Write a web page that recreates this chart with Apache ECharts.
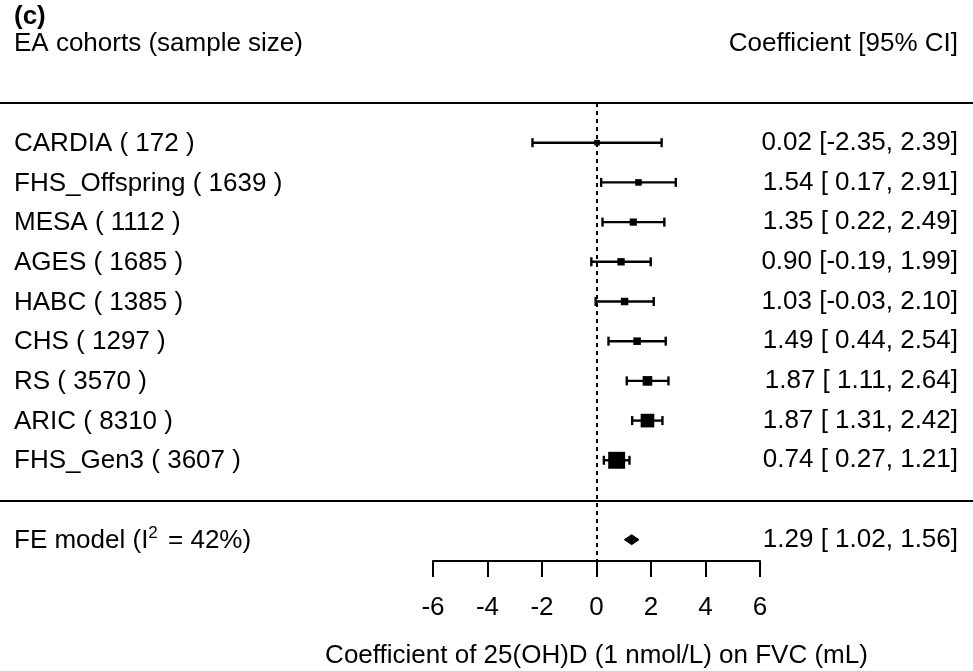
<!DOCTYPE html>
<html>
<head>
<meta charset="utf-8">
<script src="https://cdn.jsdelivr.net/npm/echarts@6/dist/echarts.min.js"></script>
<style>
  html, body { margin: 0; padding: 0; background: #fff; }
  #chart { width: 973px; height: 671px; }
</style>
</head>
<body>
<div id="chart"></div>
<script>
// ---- data ----
const panelTag = '(c)';
const leftHeader = 'EA cohorts (sample size)';
const rightHeader = 'Coefficient [95% CI]';
const cohorts = ['CARDIA', 'FHS_Offspring', 'MESA', 'AGES', 'HABC', 'CHS', 'RS', 'ARIC', 'FHS_Gen3'];
const sampleSizes = [172, 1639, 1112, 1685, 1385, 1297, 3570, 8310, 3607];
const estimates = [0.02, 1.54, 1.35, 0.90, 1.03, 1.49, 1.87, 1.87, 0.74];
const lowers = [-2.35, 0.17, 0.22, -0.19, -0.03, 0.44, 1.11, 1.31, 0.27];
const uppers = [2.39, 2.91, 2.49, 1.99, 2.10, 2.54, 2.64, 2.42, 1.21];
const summaryName = 'FE model';
const summaryI2 = 42;
const summaryEst = [1.29];
const summaryLo = [1.02];
const summaryHi = [1.56];
const xTicks = [-6, -4, -2, 0, 2, 4, 6];
const xTitle = 'Coefficient of 25(OH)D (1 nmol/L) on FVC (mL)';

// ---- layout helpers ----
const FONT = 'Liberation Sans, Arial, sans-serif';
const FS = 26;
const nRows = cohorts.length;
const summaryRow = nRows + 2;
const rowMax = 11.537;

function fmt(v, padPos) {
  const s = v.toFixed(2);
  return (padPos && v >= 0) ? ' ' + s : s;
}
const leftLabels = {};
const rightLabels = {};
cohorts.forEach((c, i) => {
  leftLabels[i + 1] = c + ' ( ' + sampleSizes[i] + ' )';
  rightLabels[i + 1] = fmt(estimates[i]) + ' [' + fmt(lowers[i], true) + ', ' + fmt(uppers[i]) + ']';
});
leftLabels[summaryRow] = summaryName + ' (I{sup|2} = ' + summaryI2 + '%)';
rightLabels[summaryRow] = fmt(summaryEst[0]) + ' [' + fmt(summaryLo[0], true) + ', ' + fmt(summaryHi[0]) + ']';

// marker size from inverse-variance weights (derived from CI width)
const wts = lowers.map((lo, i) => { const se = (uppers[i] - lo) / 3.92; return 1 / (se * se); });
const wMin = Math.min(...wts), wMax = Math.max(...wts);
const psize = wts.map(w => ((w - wMin) / (wMax - wMin)) + 0.5);
const studyData = cohorts.map((c, i) => [estimates[i], lowers[i], uppers[i], i + 1, psize[i]]);
const summaryData = [[summaryEst[0], summaryLo[0], summaryHi[0], summaryRow]];

const chart = echarts.init(document.getElementById('chart'));
const option = {
  animation: false,
  backgroundColor: '#fff',
  textStyle: { fontFamily: FONT, color: '#000' },
  grid: { left: 433, right: 213, top: 103, bottom: 110, containLabel: false, outerBoundsMode: 'none' },
  xAxis: {
    type: 'value', min: xTicks[0], max: xTicks[xTicks.length - 1], interval: 2,
    axisLine: { onZero: false, lineStyle: { color: '#000', width: 2 } },
    axisTick: { show: true, inside: false, length: 16, lineStyle: { color: '#000', width: 2 } },
    axisLabel: { color: '#000', fontSize: FS, fontFamily: FONT, margin: 34 },
    splitLine: { show: false },
    name: xTitle, nameLocation: 'middle', nameGap: 82,
    nameTextStyle: { color: '#000', fontSize: FS, fontFamily: FONT }
  },
  yAxis: [
    {
      type: 'value', inverse: true, min: 0, max: rowMax, interval: 1, position: 'left',
      axisLine: { show: false }, axisTick: { show: false }, splitLine: { show: false },
      axisLabel: {
        align: 'left', margin: 419, color: '#000', fontSize: FS, fontFamily: FONT,
        padding: [2, 0, 0, 0],
        formatter: v => leftLabels[Math.round(v)] || '',
        rich: {
          sup: { fontSize: 17, fontFamily: FONT, color: '#000', verticalAlign: 'top', padding: [0, 3, 14, 0] }
        }
      }
    },
    {
      type: 'value', inverse: true, min: 0, max: rowMax, interval: 1, position: 'right',
      axisLine: { show: false }, axisTick: { show: false }, splitLine: { show: false },
      axisLabel: {
        align: 'right', margin: 198, color: '#000', fontSize: FS, fontFamily: FONT,
        formatter: v => rightLabels[Math.round(v)] || ''
      }
    }
  ],
  graphic: [
    { type: 'text', left: 14, top: 4, style: { text: panelTag, font: 'bold ' + FS + 'px ' + FONT, fill: '#000' } },
    { type: 'text', left: 14, top: 31, style: { text: leftHeader, font: FS + 'px ' + FONT, fill: '#000' } },
    { type: 'text', right: 15, top: 31, style: { text: rightHeader, font: FS + 'px ' + FONT, fill: '#000' } },
    { type: 'line', shape: { x1: 0, y1: 103, x2: 973, y2: 103 }, style: { stroke: '#000', lineWidth: 2 } },
    { type: 'line', shape: { x1: 0, y1: 501, x2: 973, y2: 501 }, style: { stroke: '#000', lineWidth: 2 } }
  ],
  series: [
    {
      type: 'custom',
      data: studyData,
      renderItem: function (params, api) {
        const lo = api.coord([api.value(1), api.value(3)]);
        const hi = api.coord([api.value(2), api.value(3)]);
        const c = api.coord([api.value(0), api.value(3)]);
        const s = api.value(4) * 11.3;
        const cap = 4.5;
        const st = { stroke: '#000', lineWidth: 2.4 };
        return {
          type: 'group',
          children: [
            { type: 'line', shape: { x1: lo[0], y1: lo[1], x2: hi[0], y2: hi[1] }, style: st },
            { type: 'line', shape: { x1: lo[0], y1: lo[1] - cap, x2: lo[0], y2: lo[1] + cap }, style: st },
            { type: 'line', shape: { x1: hi[0], y1: hi[1] - cap, x2: hi[0], y2: hi[1] + cap }, style: st },
            { type: 'rect', shape: { x: c[0] - s / 2, y: c[1] - s / 2, width: s, height: s }, style: { fill: '#000' } }
          ]
        };
      },
      markLine: {
        silent: true, symbol: ['none', 'none'], label: { show: false },
        lineStyle: { color: '#000', type: [4, 4], width: 2 },
        data: [{ xAxis: 0 }]
      },
      z: 3
    },
    {
      type: 'custom',
      data: summaryData,
      renderItem: function (params, api) {
        const lo = api.coord([api.value(1), api.value(3)]);
        const hi = api.coord([api.value(2), api.value(3)]);
        const c = api.coord([api.value(0), api.value(3)]);
        const h = 5;
        return {
          type: 'polygon',
          shape: { points: [[lo[0], lo[1]], [c[0], c[1] - h], [hi[0], hi[1]], [c[0], c[1] + h]] },
          style: { fill: '#000', stroke: '#000', lineWidth: 1 }
        };
      },
      z: 3
    }
  ]
};
chart.setOption(option);
</script>
</body>
</html>
